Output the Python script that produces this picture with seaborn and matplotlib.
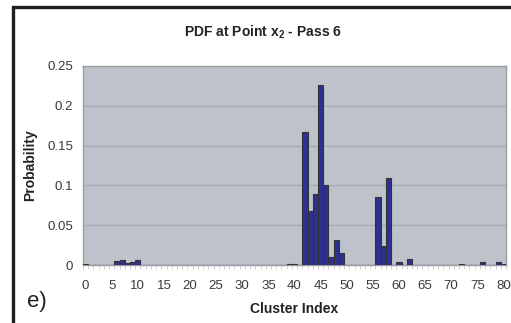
import matplotlib
matplotlib.use("Agg")
import matplotlib.pyplot as plt
from matplotlib.patches import Rectangle
from matplotlib.ticker import FixedLocator
import seaborn as sns
import pandas as pd

cluster_index = list(range(81))
probability = [
    0.001, 0, 0, 0, 0, 0, 0.0055, 0.0063, 0.002, 0.0033,      # 0-9
    0.0063, 0, 0, 0, 0, 0, 0, 0, 0, 0,                        # 10-19
    0, 0, 0, 0, 0, 0, 0, 0, 0, 0,                             # 20-29
    0, 0, 0, 0, 0, 0, 0, 0, 0, 0.0017,                        # 30-39
    0.001, 0, 0.167, 0.068, 0.0896, 0.2265, 0.1005, 0.0105, 0.031, 0.0155,  # 40-49
    0, 0, 0, 0, 0, 0, 0.0858, 0.0243, 0.1097, 0,              # 50-59
    0.0033, 0, 0.0071, 0, 0, 0, 0, 0, 0, 0,                   # 60-69
    0, 0, 0.001, 0, 0, 0, 0.0042, 0, 0, 0.0033,               # 70-79
    0.001,                                                    # 80
]
x_ticks = list(range(0, 81, 5))
y_ticks = [0, 0.05, 0.1, 0.15, 0.2, 0.25]
y_tick_labels = ["0", "0.05", "0.1", "0.15", "0.2", "0.25"]

df = pd.DataFrame({"Cluster Index": cluster_index, "Probability": probability})

sns.set_theme(style="white")
plt.rcParams["font.family"] = ["Liberation Sans", "DejaVu Sans"]

fig = plt.figure(figsize=(5.11, 3.23), dpi=100)
ax = fig.add_axes([83/511, 1-265/323, 423/511, 199/323])
ax.set_facecolor("#BEC2CA")

sns.barplot(data=df, x="Cluster Index", y="Probability", order=cluster_index,
            color="#2E3192", saturation=1, width=1.0, edgecolor="#333333",
            linewidth=0.8, ax=ax, zorder=3)

ax.set_xlim(-0.5, 80.5)
ax.set_ylim(0, 0.25)
ax.set_yticks(y_ticks)
ax.set_yticklabels(y_tick_labels)
ax.set_xticks(x_ticks)
ax.set_xticklabels([str(t) for t in x_ticks])
ax.xaxis.set_minor_locator(FixedLocator([i - 0.5 for i in range(82)]))
ax.grid(axis="y", color="#A6AAB2", linewidth=0.9, zorder=0)
ax.set_axisbelow(True)

for s in ax.spines.values():
    s.set_color("#9A9DA3")
    s.set_linewidth(1.0)

ax.tick_params(axis="y", which="major", length=4, width=0.8, color="#9A9DA3",
               labelsize=9.5, labelcolor="#3A3A3A", pad=3)
ax.tick_params(axis="x", which="major", length=0, labelsize=9.5,
               labelcolor="#3A3A3A", pad=11)
ax.tick_params(axis="x", which="minor", length=3, width=0.6, color="#C9CBD0",
               bottom=True)

ax.set_xlabel("Cluster Index", fontsize=10, fontweight="bold", color="#222222")
ax.xaxis.set_label_coords(0.50, -0.186)
ax.set_ylabel("Probability", fontsize=10, fontweight="bold", color="#222222")
ax.yaxis.set_label_coords(-0.109, 0.5)

fig.text(263/511, 1-32/323, "PDF at Point x$_\\mathregular{2}$ - Pass 6",
         ha="center", va="center", fontsize=10, fontweight="bold", color="#222222")
fig.text(27/511, 1-301/323, "e)", ha="left", va="center", fontsize=16, color="#222222")

fig.patches.append(Rectangle((13/511, -0.1), 1.2, 1-7/323+0.1, fill=False,
                             linewidth=2.4, edgecolor="#1E1E1E",
                             transform=fig.transFigure, figure=fig))

fig.savefig("out.png", dpi=100)
